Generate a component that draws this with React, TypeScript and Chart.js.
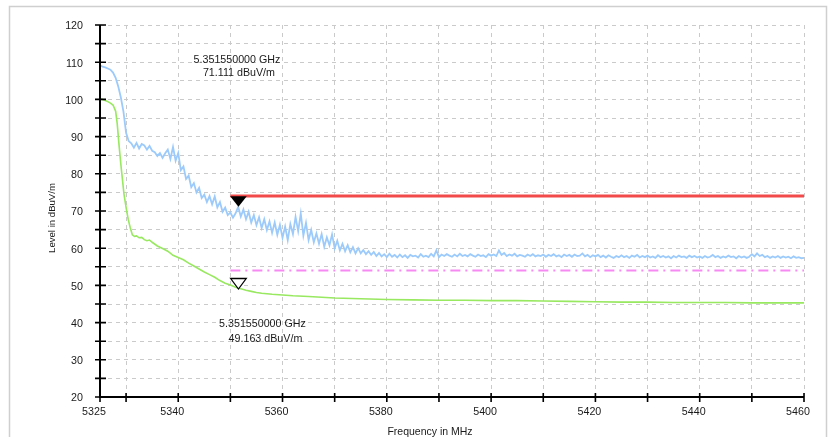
import React, { useEffect, useRef } from "react";
import { Chart, registerables } from "chart.js";

Chart.register(...registerables);

// ---- Data ----
const FREQ_START = 5325; // MHz, first sample of peak trace
const FREQ_STEP = 0.5; // MHz between peak samples

const peakLevels = [
  109.2, 108.8, 108.6, 108.3, 108.0, 107.2, 105.8, 103.5, 100.5, 96.7,
  91.0, 88.8, 88.2, 87.0, 88.3, 86.8, 88.0, 87.6, 86.5, 87.5,
  86.2, 85.8, 84.8, 85.6, 84.3, 85.5, 86.5, 84.0, 87.2, 83.5,
  85.6, 81.0, 82.0, 78.6, 79.5, 76.4, 77.5, 75.0, 76.2, 73.5,
  74.4, 72.4, 74.0, 71.8, 73.9, 71.0, 72.4, 69.8, 70.9, 68.9,
  69.6, 68.2, 69.4, 71.1, 68.5, 70.4, 67.8, 69.8, 66.9, 68.9,
  66.2, 68.3, 65.4, 67.8, 64.9, 67.2, 64.1, 66.9, 63.6, 66.3,
  62.8, 65.8, 62.2, 66.5, 63.8, 68.4, 64.6, 69.3, 63.4, 66.8,
  62.2, 64.9, 61.6, 64.0, 61.2, 63.8, 60.4, 62.9, 60.8, 63.7,
  60.0, 62.0, 59.4, 61.2, 59.2, 60.8, 58.9, 60.3, 58.6, 60.0,
  58.6, 59.5, 58.4, 59.2, 58.2, 59.0, 57.9, 58.7, 57.8, 58.4,
  57.6, 58.5, 57.7, 58.2, 57.5, 58.3, 57.6, 58.1, 57.4, 58.2,
  57.8, 58.0, 57.5, 58.4, 57.7, 58.0, 57.6, 58.5, 57.8, 59.4,
  57.6, 58.3, 57.9, 58.4, 58.0, 57.7, 58.3, 57.8, 58.5, 57.9,
  58.2, 57.8, 58.4, 58.0, 57.7, 58.3, 57.9, 58.1, 57.6, 58.4,
  58.0, 58.3, 57.9, 59.4, 58.2, 58.7, 57.9, 58.3, 58.0, 58.5,
  57.8, 58.2, 58.0, 57.7, 58.3, 57.9, 58.4, 57.8, 58.1, 57.9,
  58.3, 57.7, 58.2, 57.9, 58.4, 57.8, 58.1, 57.6, 58.3, 57.9,
  58.2, 57.7, 58.3, 57.9, 58.0, 58.6, 57.8, 58.2, 57.6, 58.1,
  57.8, 58.2, 57.6, 58.0, 57.5, 58.1, 57.7, 57.4, 57.9, 57.6,
  58.1, 57.6, 57.9, 57.4, 58.0, 57.7, 58.2, 57.5, 57.9, 57.6,
  58.0, 57.5, 57.8, 57.4, 58.1, 57.6, 57.9, 57.5, 57.8, 57.3,
  57.9, 57.5, 58.0, 57.6, 57.8, 57.4, 58.0, 57.6, 57.9, 57.5,
  57.8, 57.4, 57.9, 57.5, 57.7, 58.2, 57.6, 57.9, 57.4, 57.8,
  57.5, 58.0, 57.6, 57.8, 57.3, 57.9, 57.5, 57.8, 57.4, 57.7,
  58.4, 57.8, 58.6, 57.9, 58.2, 57.6, 57.9, 57.4, 57.8, 57.5,
  57.9, 57.4, 57.8, 57.5, 57.7, 57.3, 57.8, 57.4, 57.6, 57.3,
  57.4,
];

const avgFreqs = [
  5325, 5325.5, 5326, 5326.5, 5327, 5327.5, 5328, 5328.3, 5328.6, 5329,
  5329.3, 5329.6, 5330, 5330.4, 5330.8, 5331.2, 5331.6, 5332, 5332.5, 5333,
  5333.5, 5334, 5334.5, 5335, 5336, 5337, 5338, 5339, 5340, 5341,
  5342, 5343, 5344, 5345, 5346, 5347, 5348, 5349, 5350, 5351,
  5352, 5353, 5354, 5355, 5356, 5358, 5360, 5362, 5365, 5370,
  5375, 5380, 5385, 5390, 5395, 5400, 5405, 5410, 5415, 5420,
  5425, 5430, 5435, 5440, 5445, 5450, 5455, 5460,
];
const avgLevels = [
  100.3, 100.0, 99.7, 99.4, 99.0, 98.5, 96.8, 93.5, 88.5, 82.5,
  78.5, 74.5, 71.0, 67.8, 65.5, 63.6, 63.2, 63.3, 62.8, 62.9,
  62.3, 62.0, 62.2, 61.6, 60.6, 59.9, 59.2, 58.1, 57.5, 56.9,
  56.0, 55.2, 54.4, 53.6, 52.9, 52.2, 51.3, 50.6, 50.1, 49.5,
  49.1, 48.7, 48.4, 48.1, 47.9, 47.6, 47.4, 47.2, 47.0, 46.6,
  46.4, 46.2, 46.1, 46.0, 46.0, 45.9, 45.9, 45.8, 45.7, 45.6,
  45.5, 45.5, 45.4, 45.4, 45.4, 45.3, 45.3, 45.3,
];

const limitFreqs = [5350, 5460];
const peakLimit = [74, 74];
const avgLimit = [54, 54];

const xTickValues = [5325, 5330, 5340, 5350, 5360, 5370, 5380, 5390, 5400, 5410, 5420, 5430, 5440, 5450, 5460];
const xLabelValues = [5325, 5340, 5360, 5380, 5400, 5420, 5440, 5460];

const markerFreq = 5351.55;
const markerPeak = 71.111;
const markerAvg = 49.163;
const peakText = ["5.351550000 GHz", "71.111 dBuV/m"];
const avgText = ["5.351550000 GHz", "49.163 dBuV/m"];

const xTitle = "Frequency in MHz";
const yTitle = "Level in dBuV/m";

const FONT = "'Liberation Sans', Arial, sans-serif";

const overlayPlugin = {
  id: "overlay",
  afterDraw(chart: any) {
    const ctx = chart.ctx;
    const xs = chart.scales.x;
    const ys = chart.scales.y;
    const ca = chart.chartArea;
    ctx.save();

    // axes
    ctx.strokeStyle = "#000";
    ctx.lineWidth = 2;
    ctx.beginPath();
    ctx.moveTo(ca.left, ys.getPixelForValue(120));
    ctx.lineTo(ca.left, ys.getPixelForValue(20) + 1);
    ctx.moveTo(ca.left - 1, ys.getPixelForValue(20));
    ctx.lineTo(xs.getPixelForValue(5460), ys.getPixelForValue(20));
    ctx.stroke();

    // tick marks crossing axes
    ctx.lineWidth = 1.6;
    ctx.beginPath();
    for (let v = 20; v <= 120; v += 5) {
      const py = ys.getPixelForValue(v);
      ctx.moveTo(ca.left - 5, py);
      ctx.lineTo(ca.left + 6, py);
    }
    const by = ys.getPixelForValue(20);
    for (const v of xTickValues) {
      const px = xs.getPixelForValue(v);
      ctx.moveTo(px, by - 4);
      ctx.lineTo(px, by + 5);
    }
    ctx.stroke();

    // markers
    const mx = xs.getPixelForValue(markerFreq);
    const py1 = ys.getPixelForValue(markerPeak);
    ctx.fillStyle = "#000";
    ctx.beginPath();
    ctx.moveTo(mx - 8.3, py1 - 10.6);
    ctx.lineTo(mx + 8.3, py1 - 10.6);
    ctx.lineTo(mx, py1);
    ctx.closePath();
    ctx.fill();

    const py2 = ys.getPixelForValue(markerAvg);
    ctx.fillStyle = "#fff";
    ctx.strokeStyle = "#000";
    ctx.lineWidth = 1.3;
    ctx.beginPath();
    ctx.moveTo(mx - 7.8, py2 - 10);
    ctx.lineTo(mx + 7.8, py2 - 10);
    ctx.lineTo(mx, py2 + 0.5);
    ctx.closePath();
    ctx.fill();
    ctx.stroke();

    // annotation texts
    ctx.fillStyle = "#1a1a1a";
    ctx.font = `10.7px ${FONT}`;
    ctx.textAlign = "center";
    ctx.textBaseline = "middle";
    ctx.fillText(peakText[0], mx - 1.5, ys.getPixelForValue(110.6));
    ctx.fillText(peakText[1], mx + 0.5, ys.getPixelForValue(107));
    ctx.fillText(avgText[0], mx + 24, ys.getPixelForValue(39.6));
    ctx.fillText(avgText[1], mx + 27, ys.getPixelForValue(35.7));

    // axis titles
    ctx.font = `10.5px ${FONT}`;
    ctx.fillText(xTitle, 430, 432);
    ctx.save();
    ctx.translate(52.5, 218);
    ctx.rotate(-Math.PI / 2);
    ctx.font = `9.6px ${FONT}`;
    ctx.fillText(yTitle, 0, 0);
    ctx.restore();

    // outer frame
    ctx.strokeStyle = "#cfcfcf";
    ctx.lineWidth = 1.5;
    ctx.beginPath();
    ctx.moveTo(9.5, 440);
    ctx.lineTo(9.5, 6.5);
    ctx.lineTo(826.5, 6.5);
    ctx.lineTo(826.5, 440);
    ctx.stroke();

    ctx.restore();
  },
};

export default function App() {
  const ref = useRef<HTMLCanvasElement>(null);

  useEffect(() => {
    if (!ref.current) return;
    const peakData = peakLevels.map((y, i) => ({ x: FREQ_START + i * FREQ_STEP, y }));
    const avgData = avgLevels.map((y, i) => ({ x: avgFreqs[i], y }));
    const peakLimData = peakLimit.map((y, i) => ({ x: limitFreqs[i], y }));
    const avgLimData = avgLimit.map((y, i) => ({ x: limitFreqs[i], y }));

    const gridColor = "#cacaca";

    const chart = new Chart(ref.current, {
      type: "line",
      data: {
        datasets: [
          {
            data: peakLimData,
            borderColor: "#f24a4a",
            borderWidth: 3,
            pointRadius: 0,
          },
          {
            data: avgLimData,
            borderColor: "#f68af2",
            borderWidth: 2,
            borderDash: [10, 5, 2, 5],
            pointRadius: 0,
          },
          {
            data: peakData,
            borderColor: "#9ccbfb",
            borderWidth: 1.8,
            pointRadius: 0,
            tension: 0,
          },
          {
            data: avgData,
            borderColor: "#98e860",
            borderWidth: 1.6,
            pointRadius: 0,
            tension: 0,
          },
        ],
      },
      options: {
        animation: false,
        responsive: false,
        devicePixelRatio: 1,
        layout: { padding: { left: 0, right: 29, top: 25, bottom: 0 } },
        plugins: {
          legend: { display: false },
          tooltip: { enabled: false },
        },
        events: [],
        scales: {
          x: {
            type: "linear",
            min: 5325,
            max: 5460,
            afterBuildTicks: (scale: any) => {
              scale.ticks = xTickValues.map((v) => ({ value: v }));
            },
            afterFit: (scale: any) => {
              scale.height = 40;
            },
            ticks: {
              autoSkip: false,
              maxRotation: 0,
              minRotation: 0,
              padding: 9,
              labelOffset: -6,
              color: "#1a1a1a",
              font: { family: FONT, size: 10.7 },
              callback: (v: any) => (xLabelValues.includes(Number(v)) ? String(v) : ""),
            },
            grid: {
              drawTicks: false,
              lineWidth: 1,
              color: (c: any) => (c.tick && c.tick.value === 5325 ? "rgba(0,0,0,0)" : gridColor),
            },
            border: { display: false, dash: [4, 4] },
          },
          y: {
            type: "linear",
            min: 20,
            max: 120,
            afterFit: (scale: any) => {
              scale.width = 100;
            },
            ticks: {
              stepSize: 5,
              autoSkip: false,
              padding: 17,
              labelOffset: 1.5,
              color: "#1a1a1a",
              font: { family: FONT, size: 10.7 },
              callback: (v: any) => (Number(v) % 10 === 0 ? String(v) : ""),
            },
            grid: {
              drawTicks: false,
              lineWidth: 1,
              color: (c: any) => (c.tick && c.tick.value === 20 ? "rgba(0,0,0,0)" : gridColor),
            },
            border: { display: false, dash: [4, 4] },
          },
        },
      },
      plugins: [overlayPlugin],
    } as any);

    return () => chart.destroy();
  }, []);

  return (
    <canvas
      ref={ref}
      width={833}
      height={437}
      style={{ position: "fixed", left: 0, top: 0, width: 833, height: 437, background: "#fff" }}
    />
  );
}
